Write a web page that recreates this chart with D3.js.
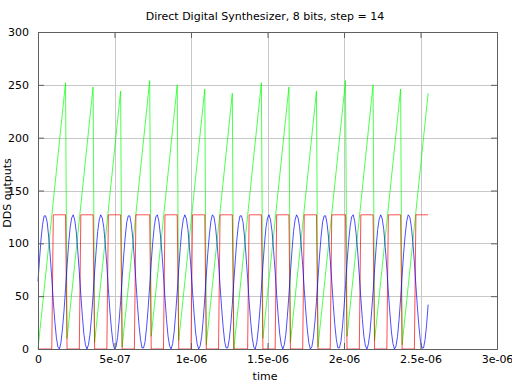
<!DOCTYPE html>
<html lang="en">
<head>
  <meta charset="UTF-8">
  <title>Direct Digital Synthesizer</title>
  <script src="https://d3js.org/d3.v7.min.js"></script>
  <style>
    body { margin: 0; background: white; }
    text { font-family: "DejaVu Sans", sans-serif; fill: #000; }
    .grid line { stroke: #c8c8c8; stroke-width: 1px; }
    .axis path, .axis line { stroke: #606060; }
    .trace { fill: none; stroke-width: 0.7px; }
  </style>
</head>
<body>
<svg id="dds" width="512" height="384"></svg>
<script>
  // sample clock of the synthesizer (one sample every 10 ns)
  const samplePeriod = 1e-8;

  // phase accumulator, 8 bits, step 14 (green)
  const accumulator = [
    0,14,28,42,56,70,84,98,112,126,140,154,168,182,196,210,224,238,252,
    10,24,38,52,66,80,94,108,122,136,150,164,178,192,206,220,234,248,
    6,20,34,48,62,76,90,104,118,132,146,160,174,188,202,216,230,244,
    2,16,30,44,58,72,86,100,114,128,142,156,170,184,198,212,226,240,254,
    12,26,40,54,68,82,96,110,124,138,152,166,180,194,208,222,236,250,
    8,22,36,50,64,78,92,106,120,134,148,162,176,190,204,218,232,246,
    4,18,32,46,60,74,88,102,116,130,144,158,172,186,200,214,228,242,
    0,14,28,42,56,70,84,98,112,126,140,154,168,182,196,210,224,238,252,
    10,24,38,52,66,80,94,108,122,136,150,164,178,192,206,220,234,248,
    6,20,34,48,62,76,90,104,118,132,146,160,174,188,202,216,230,244,
    2,16,30,44,58,72,86,100,114,128,142,156,170,184,198,212,226,240,254,
    12,26,40,54,68,82,96,110,124,138,152,166,180,194,208,222,236,250,
    8,22,36,50,64,78,92,106,120,134,148,162,176,190,204,218,232,246,
    4,18,32,46,60,74,88,102,116,130,144,158,172,186,200,214,228,242
  ];

  // sine lookup output (blue)
  const sineOut = [
    64,85,104,118,126,126,120,106,88,67,45,26,11,2,0,6,19,36,57,
    79,99,115,124,127,122,111,93,73,51,31,14,4,0,4,14,31,51,
    73,93,111,122,127,124,115,99,79,57,36,19,6,0,2,11,26,45,
    67,88,106,120,126,126,118,104,85,64,42,23,9,1,1,7,21,39,60,
    82,101,116,125,127,121,108,91,70,48,28,12,3,0,5,16,34,54,
    76,96,113,123,127,123,113,96,76,54,34,16,5,0,3,12,28,48,
    70,91,108,121,127,125,116,101,82,60,39,21,7,1,1,9,23,42,
    64,85,104,118,126,126,120,106,88,67,45,26,11,2,0,6,19,36,57,
    79,99,115,124,127,122,111,93,73,51,31,14,4,0,4,14,31,51,
    73,93,111,122,127,124,115,99,79,57,36,19,6,0,2,11,26,45,
    67,88,106,120,126,126,118,104,85,64,42,23,9,1,1,7,21,39,60,
    82,101,116,125,127,121,108,91,70,48,28,12,3,0,5,16,34,54,
    76,96,113,123,127,123,113,96,76,54,34,16,5,0,3,12,28,48,
    70,91,108,121,127,125,116,101,82,60,39,21,7,1,1,9,23,42
  ];

  // square output, MSB of the accumulator (red)
  const squareOut = [
    0,0,0,0,0,0,0,0,0,0,127,127,127,127,127,127,127,127,127,
    0,0,0,0,0,0,0,0,0,127,127,127,127,127,127,127,127,127,
    0,0,0,0,0,0,0,0,0,127,127,127,127,127,127,127,127,127,
    0,0,0,0,0,0,0,0,0,127,127,127,127,127,127,127,127,127,127,
    0,0,0,0,0,0,0,0,0,127,127,127,127,127,127,127,127,127,
    0,0,0,0,0,0,0,0,0,127,127,127,127,127,127,127,127,127,
    0,0,0,0,0,0,0,0,0,127,127,127,127,127,127,127,127,127,
    0,0,0,0,0,0,0,0,0,0,127,127,127,127,127,127,127,127,127,
    0,0,0,0,0,0,0,0,0,127,127,127,127,127,127,127,127,127,
    0,0,0,0,0,0,0,0,0,127,127,127,127,127,127,127,127,127,
    0,0,0,0,0,0,0,0,0,127,127,127,127,127,127,127,127,127,127,
    0,0,0,0,0,0,0,0,0,127,127,127,127,127,127,127,127,127,
    0,0,0,0,0,0,0,0,0,127,127,127,127,127,127,127,127,127,
    0,0,0,0,0,0,0,0,0,127,127,127,127,127,127,127,127,127
  ];

  const xTicks = [0, 5e-7, 1e-6, 1.5e-6, 2e-6, 2.5e-6, 3e-6];
  const xTickLabels = ["0", "5e-07", "1e-06", "1.5e-06", "2e-06", "2.5e-06", "3e-06"];
  const yTicks = [0, 50, 100, 150, 200, 250, 300];

  const svg = d3.select("#dds");
  const margin = { top: 32, right: 15, bottom: 35, left: 38 };
  const width = 512, height = 384;

  const x = d3.scaleLinear().domain([0, 3e-6]).range([margin.left, width - margin.right]);
  const y = d3.scaleLinear().domain([0, 300]).range([height - margin.bottom, margin.top]);

  // grid
  svg.append("g").attr("class", "grid")
    .selectAll("line").data(xTicks.slice(1, -1)).join("line")
      .attr("x1", d => Math.round(x(d)) + 0.5).attr("x2", d => Math.round(x(d)) + 0.5)
      .attr("y1", y(0)).attr("y2", y(300));
  svg.append("g").attr("class", "grid")
    .selectAll("line").data(yTicks.slice(1, -1)).join("line")
      .attr("y1", d => Math.round(y(d)) + 0.5).attr("y2", d => Math.round(y(d)) + 0.5)
      .attr("x1", x(0)).attr("x2", x(3e-6));

  // traces
  const line = d3.line()
    .x((d, i) => x(i * samplePeriod))
    .y(d => y(d));

  svg.append("path").attr("class", "trace").attr("stroke", "#00ff00").attr("d", line(accumulator));
  svg.append("path").attr("class", "trace").attr("stroke", "#ff0000").attr("d", line(squareOut));
  svg.append("path").attr("class", "trace").attr("stroke", "#0000ff").attr("d", line(sineOut));

  // axes with inward ticks on every side
  const fmt = d => xTickLabels[xTicks.indexOf(d)];
  svg.append("g").attr("class", "axis")
    .attr("transform", `translate(0,${y(0)})`)
    .call(d3.axisBottom(x).tickValues(xTicks).tickFormat(fmt).tickSize(-6).tickPadding(6))
    .selectAll("text").style("font-size", "11px");
  svg.append("g").attr("class", "axis")
    .attr("transform", `translate(0,${y(300)})`)
    .call(d3.axisTop(x).tickValues(xTicks).tickFormat("").tickSize(-6));
  svg.append("g").attr("class", "axis")
    .attr("transform", `translate(${x(0)},0)`)
    .call(d3.axisLeft(y).tickValues(yTicks).tickSize(-6).tickPadding(9))
    .selectAll("text").style("font-size", "11px");
  svg.append("g").attr("class", "axis")
    .attr("transform", `translate(${x(3e-6)},0)`)
    .call(d3.axisRight(y).tickValues(yTicks).tickFormat("").tickSize(-6));

  svg.selectAll(".axis .domain").attr("stroke", "#606060");

  // labels
  svg.append("text")
    .attr("x", 265).attr("y", 20).attr("text-anchor", "middle")
    .style("font-size", "11px")
    .text("Direct Digital Synthesizer, 8 bits, step = 14");
  svg.append("text")
    .attr("x", 265).attr("y", 380).attr("text-anchor", "middle")
    .style("font-size", "11px")
    .text("time");
  svg.append("text")
    .attr("transform", "translate(11,193) rotate(-90)")
    .attr("text-anchor", "middle")
    .style("font-size", "11px")
    .text("DDS outputs");
</script>
</body>
</html>
